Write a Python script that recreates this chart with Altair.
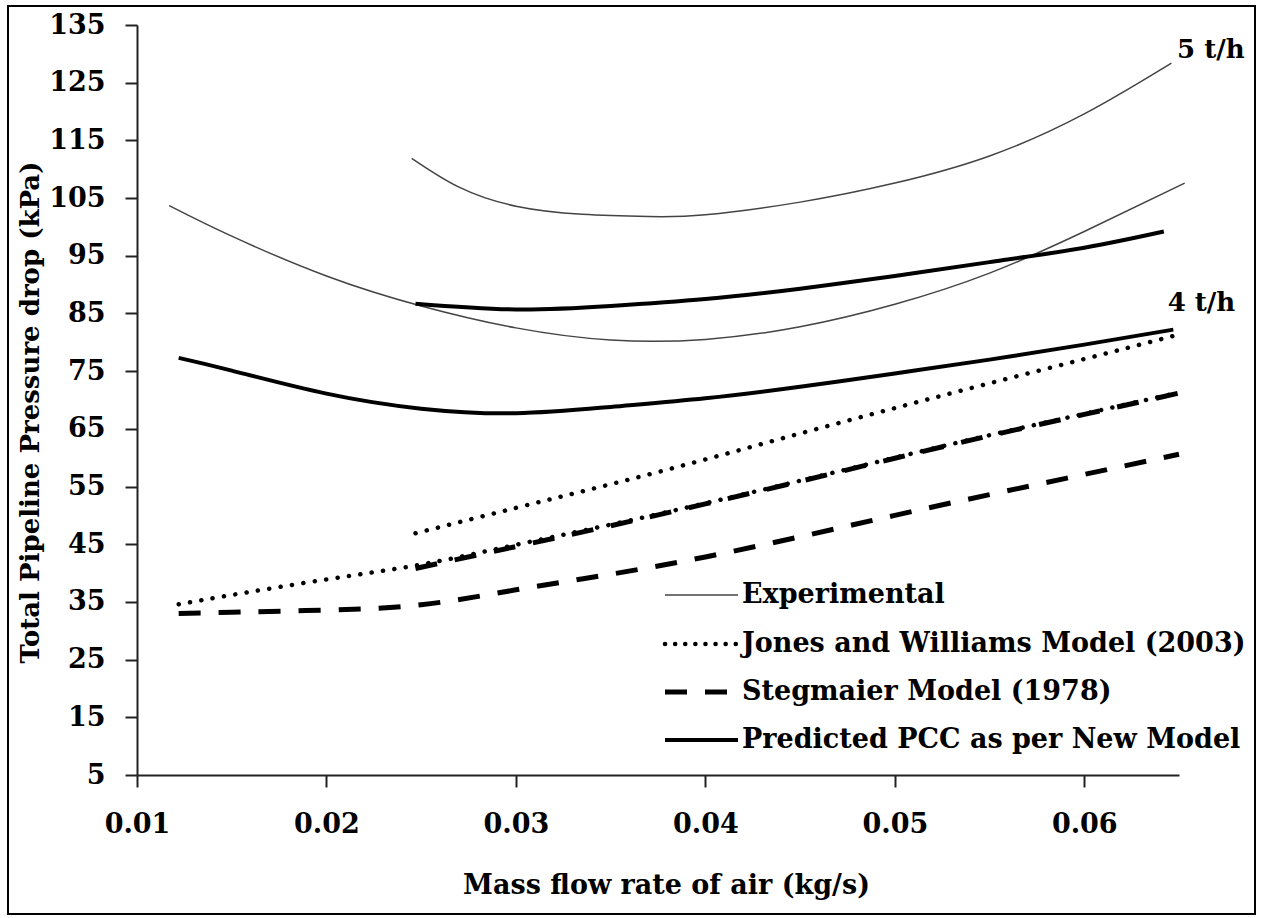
import altair as alt
import pandas as pd

# ---- data ----
exp4_x = [0.0117, 0.015, 0.020, 0.025, 0.030, 0.035, 0.040, 0.045, 0.050, 0.055, 0.060, 0.0653]
exp4_y = [103.7, 98.4, 91.5, 86.3, 82.5, 80.4, 80.5, 82.7, 86.6, 92.0, 99.2, 107.6]

exp5_x = [0.0245, 0.027, 0.030, 0.0335, 0.037, 0.040, 0.045, 0.050, 0.055, 0.060, 0.0646]
exp5_y = [111.9, 106.9, 103.6, 102.2, 101.8, 102.1, 104.3, 107.6, 112.3, 119.6, 128.4]

new5_x = [0.0247, 0.030, 0.035, 0.040, 0.045, 0.050, 0.055, 0.060, 0.0642]
new5_y = [86.7, 85.7, 86.3, 87.5, 89.3, 91.5, 93.9, 96.4, 99.2]

new4_x = [0.0122, 0.015, 0.020, 0.025, 0.030, 0.035, 0.040, 0.045, 0.050, 0.055, 0.060, 0.0647]
new4_y = [77.3, 75.1, 71.1, 68.5, 67.7, 68.8, 70.3, 72.3, 74.6, 77.0, 79.6, 82.2]

jw4_x = [0.0122, 0.015, 0.020, 0.025, 0.030, 0.035, 0.040, 0.045, 0.050, 0.055, 0.060, 0.065]
jw4_y = [34.6, 36.2, 38.9, 41.5, 44.9, 48.4, 52.1, 56.0, 60.0, 63.9, 67.6, 71.3]

jw5_x = [0.0247, 0.030, 0.035, 0.040, 0.045, 0.050, 0.055, 0.060, 0.0647]
jw5_y = [46.9, 51.3, 55.4, 59.7, 64.2, 68.6, 72.9, 77.1, 81.1]

st4_x = [0.0122, 0.015, 0.020, 0.025, 0.030, 0.035, 0.040, 0.045, 0.050, 0.055, 0.060, 0.065]
st4_y = [33.0, 33.2, 33.6, 34.5, 37.1, 39.8, 42.8, 46.3, 50.0, 53.6, 57.1, 60.6]

st5_x = [0.0247, 0.030, 0.035, 0.040, 0.045, 0.050, 0.055, 0.060, 0.065]
st5_y = [40.8, 44.6, 48.2, 52.0, 55.9, 59.9, 63.8, 67.5, 71.2]

legend_labels = ["Experimental", "Jones and Williams Model (2003)",
                 "Stegmaier Model (1978)", "Predicted PCC as per New Model"]

rate_labels = ["5 t/h", "4 t/h"]
rate_label_x = [0.0649, 0.0644]
rate_label_y = [130.7, 86.9]

x_ticks = [0.01, 0.02, 0.03, 0.04, 0.05, 0.06]
y_ticks = [5, 15, 25, 35, 45, 55, 65, 75, 85, 95, 105, 115, 125, 135]

FONT = "DejaVu Serif"

rows = []
def add(model, rate, xs, ys):
    for a, b in zip(xs, ys):
        rows.append({"x": a, "y": b, "model": model, "rate": rate})

add("Experimental", "4", exp4_x, exp4_y)
add("Experimental", "5", exp5_x, exp5_y)
add("New", "4", new4_x, new4_y)
add("New", "5", new5_x, new5_y)
add("Jones", "4", jw4_x, jw4_y)
add("Jones", "5", jw5_x, jw5_y)
add("Steg", "4", st4_x, st4_y)
add("Steg", "5", st5_x, st5_y)
df = pd.DataFrame(rows)

xs = alt.Scale(domain=[0.01, 0.065], nice=False, zero=False)
ys = alt.Scale(domain=[5, 135], nice=False, zero=False)

X = alt.X("x:Q", scale=xs, axis=alt.Axis(
    values=x_ticks, format=".2f", title="Mass flow rate of air (kg/s)",
    labelPadding=24, titleX=529, titleY=118, titleBaseline="alphabetic",
    titleFontSize=27))
Y = alt.Y("y:Q", scale=ys, axis=alt.Axis(
    values=y_ticks, format="d", title="Total Pipeline Pressure drop (kPa)",
    labelPadding=20, titleX=-107, titleY=387, titleBaseline="middle", titleAngle=270,
    titleFontSize=26))

base = alt.Chart(df)

styles = {
    "Experimental": dict(strokeWidth=1.5, color="#444444"),
    "Jones": dict(strokeWidth=4.5, color="black", strokeDash=[0.1, 11.4], strokeCap="round"),
    "Steg": dict(strokeWidth=5, color="black", strokeDash=[22, 18]),
    "New": dict(strokeWidth=4, color="black"),
}

layers = []
for model in ["Experimental", "New", "Steg", "Jones"]:
    layers.append(
        base.transform_filter(alt.datum.model == model)
        .mark_line(interpolate="natural", **styles[model])
        .encode(x=X, y=Y, detail="rate:N")
    )

# rate annotations
ann = pd.DataFrame({"label": rate_labels, "x": rate_label_x, "y": rate_label_y})
layers.append(
    alt.Chart(ann).mark_text(align="left", baseline="middle", font=FONT,
                             fontWeight="bold", fontSize=26, color="black")
    .encode(x=alt.X("x:Q", scale=xs), y=alt.Y("y:Q", scale=ys), text="label:N")
)

# legend (drawn inside plot, lower right)
leg_styles = ["Experimental", "Jones", "Steg", "New"]
leg_x0, leg_x1, leg_tx = 528, 601, 605
leg_y = [570, 619, 667, 715]
for lab, st, yy in zip(legend_labels, leg_styles, leg_y):
    ld = pd.DataFrame({"label": [lab]})
    sty = dict(styles[st])
    if st == "Jones":
        sty["strokeDash"] = [0.1, 10]
    layers.append(
        alt.Chart(ld).mark_rule(**sty).encode(
            x=alt.value(leg_x0), x2=alt.value(leg_x1), y=alt.value(yy))
    )
    layers.append(
        alt.Chart(ld).mark_text(align="left", baseline="middle", font=FONT,
                                fontWeight="bold", fontSize=27, color="black")
        .encode(x=alt.value(leg_tx), y=alt.value(yy), text="label:N")
    )

# outer frame
frame = pd.DataFrame({"label": ["frame"]})
layers.append(
    alt.Chart(frame).mark_rect(fillOpacity=0, stroke="black", strokeWidth=2).encode(
        x=alt.value(-129), x2=alt.value(1118), y=alt.value(-19), y2=alt.value(889))
)

chart = alt.layer(*layers).properties(
    width=1042, height=750,
    padding={"left": 137, "top": 25, "right": 84, "bottom": 143},
    autosize=alt.AutoSizeParams(type="none"),
    background="white",
).configure_view(stroke=None).configure_axis(
    grid=False,
    domainColor="#222222", domainWidth=2,
    tickColor="#222222", tickWidth=2, tickSize=12,
    labelFont=FONT, labelFontWeight="bold", labelFontSize=27, labelColor="black",
    titleFont=FONT, titleFontWeight="bold", titleColor="black",
    labelFlush=False, labelOverlap=False,
)

chart.save("out.html", embed_options={"renderer": "svg", "actions": False})
